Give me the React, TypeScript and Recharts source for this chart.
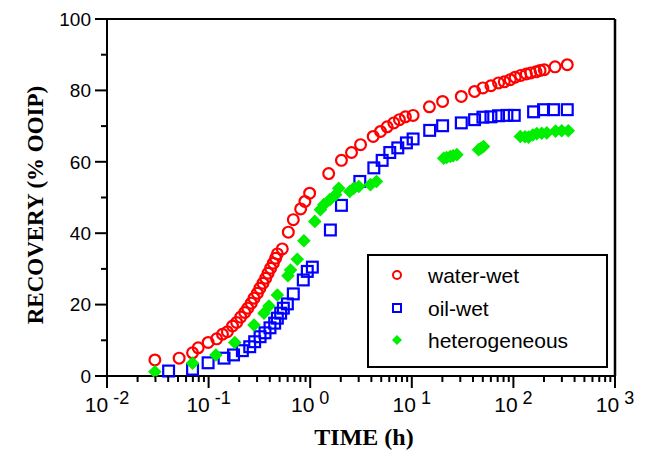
import { ReferenceLine, Scatter, ScatterChart, XAxis, YAxis } from "recharts";

// time (h) and recovery (% OOIP)
const waterWetTime = [
  0.0296, 0.0513, 0.0695, 0.079, 0.099, 0.12, 0.137, 0.153, 0.172, 0.189, 0.207,
  0.227, 0.243, 0.263, 0.28, 0.302, 0.32, 0.343, 0.365, 0.385, 0.408, 0.434, 0.457,
  0.475, 0.531, 0.609, 0.682, 0.805, 0.887, 0.987, 1.52, 2.03, 2.55, 3.13, 4.17, 4.92,
  5.72, 6.65, 7.56, 8.65, 10.3, 14.9, 20.1, 30.7, 41.5, 50.1, 60.1, 71.4, 81.3, 93.1,
  104, 118, 134, 148, 167, 183, 201, 257, 339,
];
const waterWetRecovery = [
  4.5, 5.0, 6.5, 7.9, 9.4, 10.4, 11.7, 12.4, 14.0, 15.0, 16.5, 17.8, 19.0, 20.4, 21.8,
  23.2, 24.6, 26.0, 27.4, 28.8, 30.2, 31.6, 33.0, 34.2, 35.6, 40.3, 43.8, 46.8, 48.9,
  51.2, 56.7, 60.4, 62.6, 64.8, 67.1, 68.5, 69.8, 70.9, 71.8, 72.6, 73.0, 75.4, 76.9,
  78.3, 79.7, 80.7, 81.3, 82.1, 82.4, 83.0, 83.7, 84.2, 84.6, 84.9, 85.2, 85.6, 85.8,
  86.6, 87.2,
];

const oilWetTime = [
  0.0404, 0.0695, 0.0989, 0.142, 0.176, 0.215, 0.254, 0.284, 0.321, 0.359, 0.402,
  0.447, 0.475, 0.512, 0.544, 0.596, 0.682, 0.855, 0.936, 1.05, 1.58, 2.03, 3.08, 4.23,
  5.11, 6.07, 7.28, 8.85, 10.3, 15.0, 20.1, 30.7, 41.5, 50.1, 60.1, 71.4, 86.3, 102,
  158, 198, 248, 339,
];
const oilWetRecovery = [
  1.4, 1.9, 3.7, 5.0, 5.9, 7.1, 8.2, 9.6, 11.0, 12.1, 13.5, 14.8, 16.2, 17.6, 19.0,
  20.2, 23.0, 26.9, 29.3, 30.5, 40.9, 47.8, 54.5, 58.3, 60.4, 62.6, 63.9, 65.3, 66.4,
  68.8, 70.1, 70.9, 71.8, 72.5, 72.6, 72.9, 73.0, 73.0, 74.0, 74.6, 74.6, 74.6,
];

const heteroTime = [
  0.0296, 0.0695, 0.118, 0.181, 0.28, 0.351, 0.393, 0.475, 0.604, 0.641, 0.746, 0.867,
  1.11, 1.26, 1.36, 1.56, 1.78, 1.91, 2.45, 2.69, 3.01, 3.92, 4.49, 20.6, 22.0, 23.9,
  25.5, 27.8, 45.4, 48.0, 50.8, 117, 130, 141, 155, 170, 190, 213, 260, 299, 347,
];
const heteroRecovery = [
  1.2, 3.6, 5.9, 9.4, 14.3, 17.6, 19.6, 22.7, 28.1, 29.7, 32.7, 37.9, 43.3, 46.6, 48.0,
  49.4, 50.8, 52.6, 51.7, 52.6, 53.1, 53.6, 54.5, 61.0, 61.2, 61.5, 61.7, 62.0, 63.4,
  63.8, 64.3, 67.1, 67.0, 66.9, 67.5, 67.9, 68.0, 68.1, 68.6, 68.7, 68.7,
];

const xMajorTicks = [0.01, 0.1, 1, 10, 100, 1000];
const xTickExponents = ["-2", "-1", "0", "1", "2", "3"];
const yTicks = [0, 10, 20, 30, 40, 50, 60, 70, 80, 90, 100];
const yTickLabels = ["0", "", "20", "", "40", "", "60", "", "80", "", "100"];

const legendLabels = ["water-wet", "oil-wet", "heterogeneous"];

const RED = "#ff0000";
const BLUE = "#0000ff";
const GREEN = "#00ee00";
const SANS = "'Liberation Sans', Arial, sans-serif";
const SERIF = "'Liberation Serif', 'Times New Roman', serif";

const toPoints = (t: number[], r: number[]) =>
  t.map((time, i) => ({ time, recovery: r[i] }));

// log axis: decade ticks plus 2..9 minor ticks
const xTicks: number[] = [];
xMajorTicks.forEach((m, i) => {
  xTicks.push(m);
  if (i < xMajorTicks.length - 1) {
    for (let k = 2; k <= 9; k++) xTicks.push(+(m * k).toPrecision(3));
  }
});

function XTick({ x, y, payload }: any) {
  const idx = xMajorTicks.findIndex((m) => Math.abs(m - payload.value) < m * 1e-6);
  const major = idx >= 0;
  return (
    <g>
      <line x1={x} x2={x} y1={y} y2={y + (major ? 12 : 6)} stroke="#000" strokeWidth={2} />
      {major && (
        <text x={x} y={y + 36} textAnchor="middle" fontFamily={SANS} fontSize={21} fill="#000">
          <tspan>10</tspan>
          <tspan dx={5} dy={-8} fontSize={18}>
            {xTickExponents[idx]}
          </tspan>
        </text>
      )}
    </g>
  );
}

function YTick({ x, y, index }: any) {
  const label = yTickLabels[index] ?? "";
  const major = label !== "";
  return (
    <g>
      <line x1={x - (major ? 12 : 6)} x2={x} y1={y} y2={y} stroke="#000" strokeWidth={2} />
      {major && (
        <text
          x={x - 16}
          y={y}
          dy="0.36em"
          textAnchor="end"
          fontFamily={SANS}
          fontSize={19}
          fill="#000"
        >
          {label}
        </text>
      )}
    </g>
  );
}

const Circle = ({ cx, cy }: any) => (
  <circle cx={cx} cy={cy} r={5.4} fill="none" stroke={RED} strokeWidth={2.2} />
);
const Square = ({ cx, cy }: any) => (
  <rect x={cx - 5.4} y={cy - 5.4} width={10.8} height={10.8} fill="none" stroke={BLUE} strokeWidth={2.2} />
);
const Diamond = ({ cx, cy }: any) => (
  <path d={`M${cx},${cy - 6.8}L${cx + 6.8},${cy}L${cx},${cy + 6.8}L${cx - 6.8},${cy}Z`} fill={GREEN} />
);

export default function App() {
  return (
    <div style={{ position: "absolute", left: 0, top: 0, width: 648, height: 452, background: "#fff" }}>
      <ScatterChart width={648} height={452} margin={{ top: 19, right: 33, bottom: 0, left: 0 }}>
        <XAxis
          dataKey="time"
          type="number"
          scale="log"
          domain={[0.01, 1000]}
          allowDataOverflow
          ticks={xTicks}
          interval={0}
          tickSize={0}
          tickMargin={0}
          tickLine={false}
          tick={<XTick />}
          height={76}
          axisLine={{ stroke: "#000", strokeWidth: 2 }}
        />
        <YAxis
          dataKey="recovery"
          type="number"
          domain={[0, 100]}
          ticks={yTicks}
          interval={0}
          tickSize={0}
          tickMargin={0}
          tickLine={false}
          tick={<YTick />}
          width={107}
          axisLine={{ stroke: "#000", strokeWidth: 2 }}
        />
        <ReferenceLine y={100} stroke="#000" strokeWidth={2} />
        <ReferenceLine x={1000} stroke="#000" strokeWidth={2.5} />
        <Scatter data={toPoints(waterWetTime, waterWetRecovery)} shape={<Circle />} isAnimationActive={false} />
        <Scatter data={toPoints(oilWetTime, oilWetRecovery)} shape={<Square />} isAnimationActive={false} />
        <Scatter data={toPoints(heteroTime, heteroRecovery)} shape={<Diamond />} isAnimationActive={false} />
      </ScatterChart>

      <svg
        width={648}
        height={452}
        style={{ position: "absolute", left: 0, top: 0, pointerEvents: "none" }}
      >
        <text
          x={43}
          y={205}
          transform="rotate(-90 43 205)"
          textAnchor="middle"
          fontFamily={SERIF}
          fontWeight="bold"
          fontSize={23}
          fill="#000"
        >
          RECOVERY (% OOIP)
        </text>
        <text x={364} y={445} textAnchor="middle" fontFamily={SERIF} fontWeight="bold" fontSize={24} fill="#000">
          TIME (h)
        </text>

        <rect x={368} y={255} width={239} height={112} fill="#fff" stroke="#000" strokeWidth={2} />
        <circle cx={397} cy={275} r={4} fill="none" stroke={RED} strokeWidth={2} />
        <rect x={393} y={304} width={8} height={8} fill="none" stroke={BLUE} strokeWidth={2} />
        <path d="M397,335L402,340L397,345L392,340Z" fill={GREEN} />
        {legendLabels.map((label, i) => (
          <text
            key={label}
            x={428}
            y={[275, 308, 340][i]}
            dy="0.36em"
            fontFamily={SANS}
            fontSize={21}
            fill="#000"
          >
            {label}
          </text>
        ))}
      </svg>
    </div>
  );
}
